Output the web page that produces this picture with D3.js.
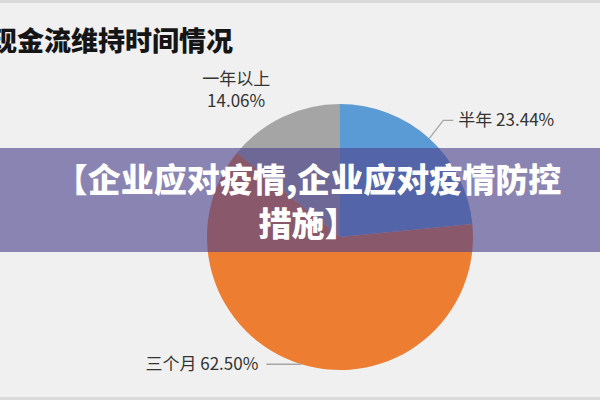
<!DOCTYPE html>
<html>
<head>
<meta charset="utf-8">
<script src="https://cdn.jsdelivr.net/npm/d3@7"></script>
<style>
html,body{margin:0;padding:0;background:#f0f0f0;overflow:hidden;}
svg{display:block;}
</style>
</head>
<body>
<svg id="chart" width="600" height="400"></svg>
<script>
const title = "现金流维持时间情况";
const categories = ["半年", "三个月", "一年以上"];
const values = [23.44, 62.50, 14.06];
const colors = ["#5b9bd5", "#ed7d31", "#a5a5a5"];
const bannerLines = ["【企业应对疫情,企业应对疫情防控", "措施】"];

const W = 600, H = 400;
const cx = 340, cy = 237, R = 133;
const cjk = "'Noto Sans CJK SC','Noto Sans',sans-serif";

const svg = d3.select("#chart");

// background & borders
svg.append("rect").attr("width", W).attr("height", H).attr("fill", "#f0f0f0");
svg.append("rect").attr("x", 0).attr("y", 0).attr("width", W).attr("height", 3).attr("fill", "#d9d9d9");
svg.append("rect").attr("x", 0).attr("y", 397).attr("width", W).attr("height", 3).attr("fill", "#dadada");

// title
svg.append("text")
  .attr("x", -10).attr("y", 51)
  .attr("font-family", cjk).attr("font-weight", 800).attr("font-size", 27)
  .attr("fill", "#151515")
  .text(title);

const data = categories.map((c, i) => ({cat: c, value: values[i], color: colors[i]}));
const pie = d3.pie().value(d => d.value).sort(null);
const arcs = pie(data);
const arc = d3.arc().innerRadius(0).outerRadius(R);
const edge = d3.arc().innerRadius(R).outerRadius(R);

const g = svg.append("g").attr("transform", `translate(${cx},${cy})`);
g.selectAll("path.slice").data(arcs).enter().append("path")
  .attr("class", "slice")
  .attr("d", arc)
  .attr("fill", d => d.data.color);

const fmt = v => v.toFixed(2) + "%";
const labelColor = "#333333";

// 半年 label with leader
{
  const a = arcs[0];
  const [px, py] = edge.centroid(a);
  const ex = px + 14, ey = py - 18;
  g.append("polyline")
    .attr("points", [[px, py], [ex, ey], [ex + 10, ey]].map(p => p.join(",")).join(" "))
    .attr("fill", "none").attr("stroke", "#a6a6a6").attr("stroke-width", 1.3);
  g.append("text")
    .attr("x", ex + 15).attr("y", ey + 6)
    .attr("font-family", cjk).attr("font-size", 17).attr("fill", labelColor)
    .text(a.data.cat + " " + fmt(a.data.value));
}
// 三个月 label with leader
{
  const a = arcs[1];
  const [px, py] = edge.centroid(a);
  const ex = px - 35;
  g.append("line")
    .attr("x1", px).attr("y1", py).attr("x2", ex).attr("y2", py)
    .attr("stroke", "#a6a6a6").attr("stroke-width", 1.3);
  g.append("text")
    .attr("x", ex - 8).attr("y", py + 6)
    .attr("text-anchor", "end")
    .attr("font-family", cjk).attr("font-size", 17).attr("fill", labelColor)
    .text(a.data.cat + " " + fmt(a.data.value));
}
// 一年以上 label above
{
  const a = arcs[2];
  const [px, py] = edge.centroid(a);
  const lx = px - 47;
  const t = g.append("text")
    .attr("text-anchor", "middle")
    .attr("font-family", cjk).attr("font-size", 17).attr("fill", labelColor);
  t.append("tspan").attr("x", lx).attr("y", py - 32).text(a.data.cat);
  t.append("tspan").attr("x", lx).attr("y", py - 10).text(fmt(a.data.value));
}

// overlay banner
svg.append("rect")
  .attr("x", 0).attr("y", 148).attr("width", W).attr("height", 104)
  .attr("fill", "rgb(79,70,142)").attr("fill-opacity", 0.635);
const bt = svg.append("text")
  .attr("text-anchor", "middle")
  .attr("font-family", cjk).attr("font-weight", 900).attr("font-size", 33)
  .attr("fill", "#ffffff");
bannerLines.forEach((l, i) => {
  bt.append("tspan").attr("x", 308).attr("y", 192 + i * 44).text(l);
});
</script>
</body>
</html>
